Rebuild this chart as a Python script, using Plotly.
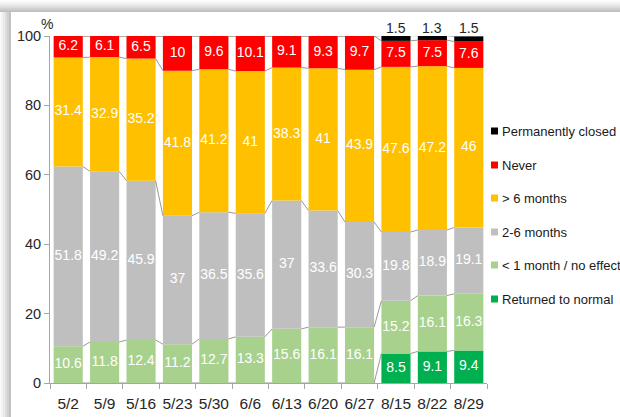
import plotly.graph_objects as go

categories = ["5/2", "5/9", "5/16", "5/23", "5/30", "6/6", "6/13", "6/20", "6/27", "8/15", "8/22", "8/29"]
returned_normal = [0, 0, 0, 0, 0, 0, 0, 0, 0, 8.5, 9.1, 9.4]
under_1_month = [10.6, 11.8, 12.4, 11.2, 12.7, 13.3, 15.6, 16.1, 16.1, 15.2, 16.1, 16.3]
two_to_six = [51.8, 49.2, 45.9, 37, 36.5, 35.6, 37, 33.6, 30.3, 19.8, 18.9, 19.1]
over_6_months = [31.4, 32.9, 35.2, 41.8, 41.2, 41, 38.3, 41, 43.9, 47.6, 47.2, 46]
never = [6.2, 6.1, 6.5, 10, 9.6, 10.1, 9.1, 9.3, 9.7, 7.5, 7.5, 7.6]
perm_closed = [0, 0, 0, 0, 0, 0, 0, 0, 0, 1.5, 1.3, 1.5]
y_ticks = [0, 20, 40, 60, 80, 100]

series = [
    ("Returned to normal", returned_normal, "#00B050", "white"),
    ("< 1 month / no effect", under_1_month, "#A9D18E", "white"),
    ("2-6 months", two_to_six, "#BFBFBF", "white"),
    ("> 6 months", over_6_months, "#FFC000", "white"),
    ("Never", never, "#FF0000", "white"),
    ("Permanently closed", perm_closed, "#000000", "black"),
]

FONT = "Liberation Sans, Arial, sans-serif"
W, H = 620, 417
ML, MR, MT, MB = 50, 133, 36, 34
PW, PH = W - ML - MR, H - MT - MB

def px_x(px):
    return (px - ML) / PW

def px_y(py):
    return (H - MB - py) / PH

xs = list(range(len(categories)))
fig = go.Figure()

base = [0.0] * len(xs)
tops = []
for name, vals, color, tcol in series:
    fig.add_trace(go.Bar(
        x=xs, y=vals, base=base[:], marker=dict(color=color, line=dict(width=0)),
        width=0.8, name=name, showlegend=False, hoverinfo="skip",
    ))
    mids = [b + v / 2 for b, v in zip(base, vals)]
    base = [b + v for b, v in zip(base, vals)]
    tops.append(base[:])
    if name != "Permanently closed":
        fig.add_trace(go.Scatter(
            x=[x for x, v in zip(xs, vals) if v > 0],
            y=[m for m, v in zip(mids, vals) if v > 0],
            text=[f"{v:g}" for v in vals if v > 0],
            mode="text", textfont=dict(color=tcol, size=14, family=FONT),
            showlegend=False, cliponaxis=False, hoverinfo="skip",
        ))

# series lines connecting segment tops between adjacent bars
lx, ly = [], []
for t in tops:
    for i in range(len(xs) - 1):
        lx += [xs[i] + 0.4, xs[i + 1] - 0.4, None]
        ly += [t[i], t[i + 1], None]
fig.add_trace(go.Scatter(x=lx, y=ly, mode="lines", line=dict(color="#7F7F7F", width=0.8),
                         showlegend=False, hoverinfo="skip", cliponaxis=False))

annotations = [dict(text="%", x=px_x(47), y=px_y(24), xref="paper", yref="paper",
                    xanchor="center", yanchor="middle",
                    showarrow=False, font=dict(size=14, family=FONT, color="#262626"))]
# labels above the permanently-closed segments
for x, v in zip(xs, perm_closed):
    if v > 0:
        annotations.append(dict(text=f"{v:g}", x=x, y=1, xref="x", yref="paper",
                                yanchor="bottom", yshift=-2, showarrow=False,
                                font=dict(size=14, family=FONT, color="#262626")))

shapes = []
# manual legend, top to bottom
leg_y = [131, 165, 198, 232, 265, 299]
for (name, vals, color, tcol), ly_px in zip(reversed(series), leg_y):
    shapes.append(dict(type="rect", xref="paper", yref="paper",
                       x0=px_x(491), x1=px_x(498), y0=px_y(ly_px + 3.5), y1=px_y(ly_px - 3.5),
                       fillcolor=color, line=dict(width=0)))
    annotations.append(dict(text=name, x=px_x(500), y=px_y(ly_px), xref="paper", yref="paper",
                            xanchor="left", yanchor="middle", showarrow=False,
                            font=dict(size=13, family=FONT, color="#1a1a1a")))

# shadow bands (top and left)
greys = ["#fbfbfb", "#f3f3f3", "#e9e9e9", "#dddddd", "#d0d0d0", "#c2c2c2"]
for k, g in enumerate(greys):
    y0 = k * 2
    shapes.append(dict(type="rect", xref="paper", yref="paper",
                       x0=px_x(0), x1=px_x(W), y0=px_y(y0), y1=px_y(y0 + 2),
                       fillcolor=g, line=dict(width=0), layer="below"))
    shapes.append(dict(type="rect", xref="paper", yref="paper",
                       x0=px_x(k * 2 - 1), x1=px_x(k * 2 + 1), y0=px_y(12), y1=px_y(H),
                       fillcolor=g, line=dict(width=0), layer="below"))

fig.update_layout(
    width=W, height=H,
    margin=dict(l=ML, r=MR, t=MT, b=MB, autoexpand=False),
    paper_bgcolor="white", plot_bgcolor="white",
    barmode="overlay",
    font=dict(family=FONT, color="#262626"),
    shapes=shapes,
    annotations=annotations,
    showlegend=False,
)
fig.update_xaxes(
    range=[-0.5, len(xs) - 0.5], tickvals=xs, ticktext=categories,
    ticks="outside", ticklen=6, tickcolor="rgba(0,0,0,0)",
    showline=True, linecolor="#A6A6A6", linewidth=1, showgrid=False, zeroline=False,
    tickfont=dict(size=15.5, family=FONT, color="#262626"),
    minor=dict(tickvals=[x - 0.5 for x in xs] + [xs[-1] + 0.5], ticks="outside",
               ticklen=5, tickcolor="#A6A6A6", showgrid=False),
    fixedrange=True, automargin=False,
)
fig.update_yaxes(
    range=[0, 100], tickvals=y_ticks, ticks="outside", ticklen=5, tickcolor="#A6A6A6",
    showline=True, linecolor="#A6A6A6", linewidth=1, showgrid=False, zeroline=False,
    tickfont=dict(size=14.5, family=FONT, color="#262626"),
    fixedrange=True, automargin=False,
)

fig.write_html("out.html", config={"displayModeBar": False},
               post_script="document.body.style.margin='0';document.body.style.overflow='hidden';")
